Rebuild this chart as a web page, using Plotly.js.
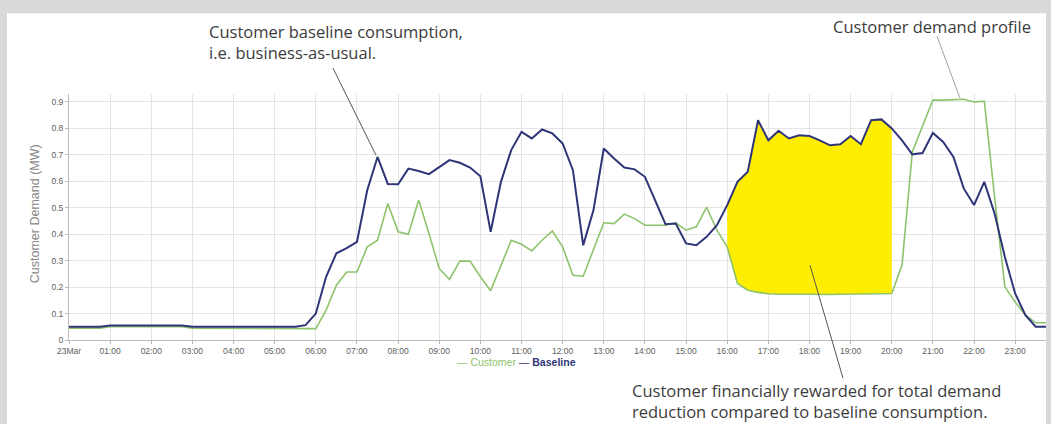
<!DOCTYPE html>
<html>
<head>
<meta charset="utf-8">
<script src="https://cdn.plot.ly/plotly-3.0.1.min.js"></script>
<style>html,body{margin:0;padding:0;background:#d9d9d9;}#chart{width:1051px;height:424px;}</style>
</head>
<body>
<div id="chart"></div>
<script>
// quarter-hour time stamps (hours after midnight, 23 Mar)
const hours = [0,0.25,0.5,0.75,1,1.25,1.5,1.75,2,2.25,2.5,2.75,3,3.25,3.5,3.75,
  4,4.25,4.5,4.75,5,5.25,5.5,5.75,6,6.25,6.5,6.75,7,7.25,7.5,7.75,
  8,8.25,8.5,8.75,9,9.25,9.5,9.75,10,10.25,10.5,10.75,11,11.25,11.5,11.75,
  12,12.25,12.5,12.75,13,13.25,13.5,13.75,14,14.25,14.5,14.75,15,15.25,15.5,15.75,
  16,16.25,16.5,16.75,17,17.25,17.5,17.75,18,18.25,18.5,18.75,19,19.25,19.5,19.75,
  20,20.25,20.5,20.75,21,21.25,21.5,21.75,22,22.25,22.5,22.75,23,23.25,23.5,23.75];

const baseline = [0.05,0.05,0.05,0.05, 0.055,0.055,0.055,0.055, 0.055,0.055,0.055,0.055,
  0.05,0.05,0.05,0.05, 0.05,0.05,0.05,0.05, 0.05,0.05,0.05,0.056,
  0.100,0.239,0.328,0.347, 0.371,0.566,0.692,0.590, 0.589,0.648,0.639,0.627,
  0.652,0.680,0.670,0.652, 0.619,0.409,0.598,0.718, 0.787,0.762,0.796,0.781,
  0.743,0.642,0.358,0.491, 0.724,0.686,0.652,0.645, 0.617,0.529,0.438,0.440,
  0.365,0.358,0.390,0.434, 0.510,0.598,0.636,0.831, 0.755,0.791,0.762,0.774,
  0.771,0.755,0.736,0.740, 0.771,0.740,0.831,0.834, 0.800,0.755,0.702,0.707,
  0.783,0.749,0.692,0.573, 0.510,0.598,0.478,0.314, 0.176,0.094,0.050,0.050];

const customer = [0.045,0.045,0.045,0.045, 0.05,0.05,0.05,0.05, 0.05,0.05,0.05,0.05,
  0.045,0.045,0.045,0.045, 0.045,0.045,0.045,0.045, 0.045,0.045,0.045,0.045,
  0.043,0.113,0.207,0.257, 0.257,0.352,0.377,0.516, 0.409,0.400,0.529,0.403,
  0.270,0.229,0.298,0.298, 0.239,0.186,0.283,0.377, 0.362,0.337,0.377,0.412,
  0.352,0.245,0.241,0.340, 0.443,0.440,0.476,0.459, 0.434,0.434,0.434,0.443,
  0.415,0.428,0.502,0.415, 0.352,0.214,0.188,0.180, 0.175,0.173,0.172,0.173,
  0.173,0.172,0.172,0.173, 0.173,0.174,0.174,0.175, 0.176,0.283,0.711,0.806,
  0.907,0.907,0.909,0.910, 0.900,0.903,0.541,0.201, 0.144,0.094,0.065,0.065];

const tickHours = [0,1,2,3,4,5,6,7,8,9,10,11,12,13,14,15,16,17,18,19,20,21,22,23];
const tickLabels = ['23Mar','01:00','02:00','03:00','04:00','05:00','06:00','07:00','08:00','09:00','10:00','11:00',
  '12:00','13:00','14:00','15:00','16:00','17:00','18:00','19:00','20:00','21:00','22:00','23:00'];
const yTicks = [0,0.1,0.2,0.3,0.4,0.5,0.6,0.7,0.8,0.9];
const yLabels = ['0','0.1','0.2','0.3','0.4','0.5','0.6','0.7','0.8','0.9'];

// reward window 16:00 - 20:00
const rewardStart = 16, rewardEnd = 20;
const iS = hours.indexOf(rewardStart), iE = hours.indexOf(rewardEnd);

const GREEN = '#8ec36c', NAVY = '#2f3677', YELLOW = '#ffee00', TXT = '#3c3c3c';

const traces = [
  {x: hours.slice(iS, iE+1), y: customer.slice(iS, iE+1), mode:'lines', line:{width:0, color:GREEN}, showlegend:false, hoverinfo:'skip'},
  {x: hours.slice(iS, iE+1), y: baseline.slice(iS, iE+1), mode:'lines', line:{width:0, color:NAVY}, fill:'tonexty', fillcolor:YELLOW, showlegend:false, hoverinfo:'skip'},
  {x: hours, y: customer, mode:'lines', name:'Customer', line:{color:GREEN, width:1.6}, showlegend:false},
  {x: hours, y: baseline, mode:'lines', name:'Baseline', line:{color:NAVY, width:2}, showlegend:false}
];

// pixel helpers for paper coordinates
const L = 69, R = 1046, T = 93.8, B = 339.8;
const px = v => (v - L) / (R - L);
const py = v => (B - v) / (B - T);
const ANN = {family:'Open Sans, sans-serif', size:16.5, color:TXT};

const layout = {
  width: 1051, height: 424,
  margin: {l: L, r: 1051 - R, t: T, b: 424 - B, pad: 0},
  paper_bgcolor: '#d9d9d9',
  plot_bgcolor: 'rgba(0,0,0,0)',
  font: {family: 'Liberation Sans, Arial, sans-serif', color: '#666'},
  xaxis: {
    range: [0, 23.75], tickvals: tickHours, ticktext: tickLabels,
    showgrid: true, gridcolor: '#e4e4e4', gridwidth: 1,
    showline: true, linecolor: '#bbbbbb', linewidth: 1,
    ticks: 'outside', ticklen: 3, tickcolor: '#bbbbbb',
    tickfont: {size: 8.5, color: '#606060'}, zeroline: false, fixedrange: true
  },
  yaxis: {
    range: [0, 0.93], tickvals: yTicks, ticktext: yLabels,
    showgrid: true, gridcolor: '#e4e4e4', gridwidth: 1,
    showline: true, linecolor: '#bbbbbb', linewidth: 1,
    ticks: 'outside', ticklen: 3, tickcolor: '#bbbbbb',
    tickfont: {size: 8.5, color: '#606060'}, zeroline: false, fixedrange: true
  },
  showlegend: false,
  shapes: [
    {type:'rect', xref:'paper', yref:'paper', x0: px(7), x1: px(1046), y0: py(424), y1: py(13),
     fillcolor:'#ffffff', line:{width:0}, layer:'below'},
    {type:'line', xref:'paper', yref:'paper', x0: px(333), y0: py(68), x1: px(376), y1: py(155), line:{color:'#555', width:1}},
    {type:'line', xref:'paper', yref:'paper', x0: px(937), y0: py(36), x1: px(960), y1: py(98), line:{color:'#9aa79a', width:1}},
    {type:'line', xref:'paper', yref:'paper', x0: px(810), y0: py(265), x1: px(843), y1: py(378), line:{color:'#555', width:1}}
  ],
  annotations: [
    {xref:'paper', yref:'paper', x: px(207), y: py(18), xanchor:'left', yanchor:'top', align:'left', showarrow:false,
     text:'Customer baseline consumption,<br>i.e. business-as-usual.', font:ANN},
    {xref:'paper', yref:'paper', x: px(831), y: py(13), xanchor:'left', yanchor:'top', align:'left', showarrow:false,
     text:'Customer demand profile', font:ANN},
    {xref:'paper', yref:'paper', x: px(630), y: py(377), xanchor:'left', yanchor:'top', align:'left', showarrow:false,
     text:'Customer financially rewarded for total demand<br>reduction compared to baseline consumption.', font:ANN},
    {xref:'paper', yref:'paper', x: px(516), y: py(362), xanchor:'center', yanchor:'middle', showarrow:false,
     text:'<span style="color:' + GREEN + '">— Customer</span> <span style="color:' + NAVY + '">— <b>Baseline</b></span>', font:{size:10.5}},
    {xref:'paper', yref:'paper', x: px(35), y: py(214), xanchor:'center', yanchor:'middle', textangle:-90, showarrow:false,
     text:'Customer Demand (MW)', font:{size:12.5, color:'#888'}}
  ]
};

Plotly.newPlot('chart', traces, layout, {displayModeBar:false, staticPlot:true});
</script>
</body>
</html>
